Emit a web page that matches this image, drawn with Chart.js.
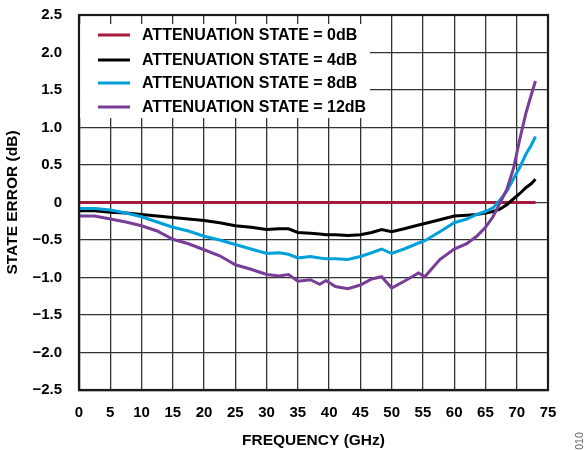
<!DOCTYPE html>
<html>
<head>
<meta charset="utf-8">
<script src="https://cdn.jsdelivr.net/npm/chart.js@4.4.1/dist/chart.umd.min.js"></script>
<style>
  html, body { margin: 0; padding: 0; background: #ffffff; }
  #wrap { width: 587px; height: 450px; position: relative; }
</style>
</head>
<body>
<div id="wrap"><canvas id="c" width="587" height="450"></canvas></div>
<script>
// ---- data ----
const frequencies = [0, 2.5, 5, 7.5, 10, 12.5, 15, 17.5, 20, 22.5, 25, 27.5, 30, 32, 33.5, 35, 37, 38.5, 39.5, 41, 43, 45, 46.8, 48.4, 50, 52, 54.3, 55.3, 57.7, 60, 62, 63.6, 65, 66.2, 67.3, 68.4, 69.5, 70.5, 71.5, 72.3, 73];
const state0dB  = [0, 0, 0, 0, 0, 0, 0, 0, 0, 0, 0, 0, 0, 0, 0, 0, 0, 0, 0, 0, 0, 0, 0, 0, 0, 0, 0, 0, 0, 0, 0, 0, 0, 0, 0, 0, 0, 0, 0, 0, 0];
const state4dB  = [-0.11, -0.11, -0.13, -0.14, -0.16, -0.18, -0.20, -0.22, -0.24, -0.27, -0.31, -0.33, -0.36, -0.35, -0.35, -0.40, -0.41, -0.42, -0.43, -0.43, -0.44, -0.43, -0.40, -0.36, -0.39, -0.35, -0.30, -0.28, -0.23, -0.18, -0.17, -0.16, -0.14, -0.12, -0.09, -0.03, 0.05, 0.12, 0.20, 0.25, 0.31];
const state8dB  = [-0.08, -0.08, -0.10, -0.14, -0.19, -0.26, -0.33, -0.38, -0.45, -0.50, -0.56, -0.62, -0.68, -0.67, -0.69, -0.74, -0.72, -0.74, -0.75, -0.75, -0.76, -0.72, -0.67, -0.62, -0.68, -0.62, -0.54, -0.51, -0.39, -0.27, -0.22, -0.16, -0.12, -0.07, 0.03, 0.15, 0.32, 0.47, 0.65, 0.76, 0.88];
const state12dB = [-0.18, -0.18, -0.22, -0.26, -0.31, -0.38, -0.49, -0.55, -0.63, -0.71, -0.83, -0.89, -0.96, -0.98, -0.96, -1.05, -1.03, -1.09, -1.04, -1.12, -1.15, -1.10, -1.02, -0.99, -1.14, -1.05, -0.94, -0.99, -0.76, -0.62, -0.55, -0.45, -0.33, -0.19, -0.01, 0.17, 0.46, 0.85, 1.20, 1.43, 1.62];

const seriesLabels = ['ATTENUATION STATE = 0dB', 'ATTENUATION STATE = 4dB', 'ATTENUATION STATE = 8dB', 'ATTENUATION STATE = 12dB'];
const seriesColors = ['#A5193D', '#000000', '#00A0DA', '#783D96'];
const xTickValues = [0, 5, 10, 15, 20, 25, 30, 35, 40, 45, 50, 55, 60, 65, 70, 75];
const xTickLabels = ['0', '5', '10', '15', '20', '25', '30', '35', '40', '45', '50', '55', '60', '65', '70', '75'];
const yTickValues = [-2.5, -2.0, -1.5, -1.0, -0.5, 0, 0.5, 1.0, 1.5, 2.0, 2.5];
const yTickLabels = ['\u22122.5', '\u22122.0', '\u22121.5', '\u22121.0', '\u22120.5', '0', '0.5', '1.0', '1.5', '2.0', '2.5'];
const xTitle = 'FREQUENCY (GHz)';
const yTitle = 'STATE ERROR (dB)';
const figureId = '010';

const FONT = '"Liberation Sans", Arial, Helvetica, sans-serif';

function pts(ys) { return frequencies.map((f, i) => ({ x: f, y: ys[i] })); }
function lookup(vals, labels, v) {
  for (let i = 0; i < vals.length; i++) if (Math.abs(vals[i] - v) < 1e-6) return labels[i];
  return '';
}

const allSeries = [state0dB, state4dB, state8dB, state12dB];
const datasets = allSeries.map((s, i) => ({
  label: seriesLabels[i],
  data: pts(s),
  borderColor: seriesColors[i],
  backgroundColor: seriesColors[i],
  borderWidth: 3,
  pointRadius: 0,
  tension: 0,
  fill: false,
  order: 4 - i
}));

const frameAndLegend = {
  id: 'frameAndLegend',
  afterDraw(chart) {
    const ctx = chart.ctx;
    const a = chart.chartArea;
    ctx.save();
    // frame
    ctx.strokeStyle = '#1a1a1a';
    ctx.lineWidth = 2.2;
    ctx.strokeRect(a.left, a.top, a.right - a.left, a.bottom - a.top);
    // legend box (covers grid)
    ctx.fillStyle = '#ffffff';
    ctx.fillRect(a.left + 1.2, 24, 370 - a.left - 1.2, 94);
    const rows = [35, 60, 83, 107];
    ctx.font = 'bold 16px ' + FONT;
    ctx.textBaseline = 'middle';
    ctx.textAlign = 'left';
    chart.data.datasets.forEach((ds, i) => {
      const y = rows[i];
      ctx.strokeStyle = ds.borderColor;
      ctx.lineWidth = 3;
      ctx.beginPath();
      ctx.moveTo(98, y);
      ctx.lineTo(130, y);
      ctx.stroke();
      ctx.fillStyle = '#000000';
      ctx.fillText(ds.label, 142, y + 1);
    });
    // figure id
    ctx.translate(580, 441);
    ctx.rotate(-Math.PI / 2);
    ctx.font = '10.5px ' + FONT;
    ctx.fillStyle = '#666666';
    ctx.textAlign = 'center';
    ctx.textBaseline = 'middle';
    ctx.fillText(figureId, 0, 0);
    ctx.restore();
  }
};

new Chart(document.getElementById('c'), {
  type: 'line',
  data: { datasets },
  options: {
    responsive: false,
    animation: false,
    devicePixelRatio: 1,
    layout: { padding: { left: 0, top: 15, right: 39, bottom: 0 } },
    plugins: { legend: { display: false }, tooltip: { enabled: false } },
    scales: {
      x: {
        type: 'linear',
        min: 0, max: 75,
        afterFit(scale) { scale.height = 60; scale.paddingLeft = 0; scale.paddingRight = 0; },
        afterBuildTicks(scale) { scale.ticks = xTickValues.map(v => ({ value: v })); },
        ticks: {
          color: '#000',
          font: { family: FONT, size: 15, weight: 'bold' },
          padding: 14,
          maxRotation: 0,
          autoSkip: false,
          callback: (v) => lookup(xTickValues, xTickLabels, v)
        },
        grid: { color: '#333333', lineWidth: 1.3, drawTicks: false },
        border: { display: true, color: '#1a1a1a', width: 2.2 },
        title: {
          display: true, text: xTitle, color: '#000',
          font: { family: FONT, size: 15.5, weight: 'bold' },
          padding: { top: 0, bottom: 0 }
        }
      },
      y: {
        type: 'linear',
        min: -2.5, max: 2.5,
        afterFit(scale) { scale.width = 79; scale.paddingTop = 0; scale.paddingBottom = 0; },
        afterBuildTicks(scale) { scale.ticks = yTickValues.map(v => ({ value: v })); },
        ticks: {
          color: '#000',
          font: { family: FONT, size: 15, weight: 'bold' },
          padding: 17,
          autoSkip: false,
          callback: (v) => lookup(yTickValues, yTickLabels, v)
        },
        grid: { color: '#333333', lineWidth: 1.3, drawTicks: false },
        border: { display: true, color: '#1a1a1a', width: 2.2 },
        title: {
          display: true, text: yTitle, color: '#000',
          font: { family: FONT, size: 15.5, weight: 'bold' },
          padding: { top: 3, bottom: 0 }
        }
      }
    }
  },
  plugins: [frameAndLegend]
});
</script>
</body>
</html>
